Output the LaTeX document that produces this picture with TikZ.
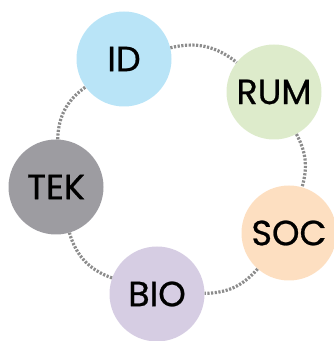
\documentclass[tikz,border=0pt]{standalone}
\usepackage{fontspec}
\setmainfont{Poppins}
\newfontfamily\lblfont{Poppins}[FakeBold=0.7]
\definecolor{cid}{HTML}{B9E4F7}
\definecolor{crum}{HTML}{DDEBCB}
\definecolor{csoc}{HTML}{FDDFC1}
\definecolor{cbio}{HTML}{D6CDE3}
\definecolor{ctek}{HTML}{9D9CA1}
\definecolor{cdot}{HTML}{8C8C8C}
\begin{document}
\begin{tikzpicture}[x=1pt,y=1pt,
  bubble/.style={circle,inner sep=0pt,minimum size=95pt,text=black,
    font=\lblfont\fontsize{35}{35}\selectfont},
  conn/.style={draw=cdot,line width=3.2pt,dash pattern=on 2.2pt off 1.5pt}]
\useasboundingbox (0,0) rectangle (333,341);
\node[bubble,fill=cid]  (ID)  at (124,282) {ID};
\node[bubble,fill=crum] (RUM) at (274,249) {RUM};
\node[bubble,fill=csoc] (SOC) at (289,108) {SOC};
\node[bubble,fill=cbio] (BIO) at (157,47) {BIO};
\node[bubble,fill=ctek] (TEK) at (56,154) {TEK};
\draw[conn] (ID) to[bend left=26] (RUM);
\draw[conn] (RUM) to[bend left=22] (SOC);
\draw[conn] (SOC) to[bend left=24] (BIO);
\draw[conn] (BIO) to[bend left=27] (TEK);
\draw[conn] (TEK) to[bend left=26] (ID);
\end{tikzpicture}
\end{document}
